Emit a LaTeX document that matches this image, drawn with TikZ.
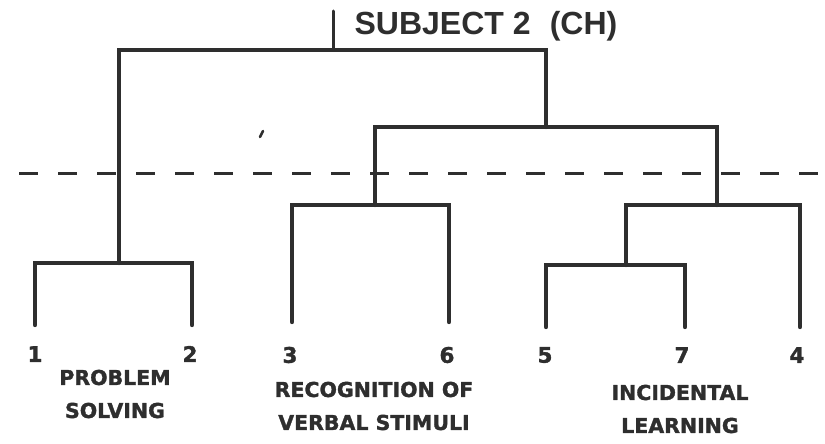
\documentclass[tikz,border=0pt]{standalone}
\usepackage{fontspec}
\setmainfont{Liberation Sans}
\newfontfamily\heavy[BoldFont=DejaVu Sans Bold,BoldFeatures={FakeBold=1.5}]{DejaVu Sans}
\begin{document}
\begin{tikzpicture}[x=1pt,y=-1pt,
  ink/.style={draw=inkc,line width=4.4pt,line cap=round,line join=miter},
  cut/.style={draw=inkc,line width=3pt,dash pattern=on 19pt off 20pt},
  num/.style={text=inkc,font=\heavy\fontsize{21.5}{21.5}\selectfont\bfseries,inner sep=0pt},
  grp/.style={text=inkc,font=\heavy\fontsize{20.5}{33}\selectfont\bfseries,inner sep=0pt,align=center},
  ttl/.style={text=inkc,font=\fontsize{32}{32}\selectfont\bfseries,inner sep=0pt}]
\definecolor{inkc}{HTML}{2E2E2E}
\useasboundingbox (0,0) rectangle (825,444);
% title
\node[ttl] (title) at (486,26) {SUBJECT 2\hspace{0.6em}(CH)};
% leaf numbers
\node[num] (n1) at (35,354) {1};
\node[num] (n2) at (190,354) {2};
\node[num] (n3) at (290,355) {3};
\node[num] (n6) at (447,355) {6};
\node[num] (n5) at (545,355) {5};
\node[num] (n7) at (682,355) {7};
\node[num] (n4) at (797,355) {4};
% group labels
\node[grp] (gps) at (115,394) {PROBLEM\\SOLVING};
\node[grp] (grv) at (374,406) {RECOGNITION OF\\VERBAL STIMULI};
\node[grp] (gil) at (680,409) {INCIDENTAL\\LEARNING};
% leaf tips
\coordinate (l1) at (35,325);
\coordinate (l2) at (192,325);
\coordinate (l3) at (292,322);
\coordinate (l6) at (449,322);
\coordinate (l5) at (546,327);
\coordinate (l7) at (685,327);
\coordinate (l4) at (800,327);
% joins
\coordinate (j12) at (119,263);
\coordinate (j36) at (375,205);
\coordinate (j57) at (626,265);
\coordinate (j574) at (717,205);
\coordinate (jR) at (546,127);
\coordinate (jT) at (333,50);
\coordinate (top) at (333,11);
% cut line
\coordinate (c0) at (19,173);
\coordinate (c1) at (825,173);
\draw[cut] (c0) -- (c1);
% dendrogram
\draw[ink] (l1) |- (j12) -| (l2);
\draw[ink] (l3) |- (j36) -| (l6);
\draw[ink] (l5) |- (j57) -| (l7);
\draw[ink] (j57) |- (j574) -| (l4);
\draw[ink] (j36) |- (jR) -| (j574);
\draw[ink] (j12) |- (jT) -| (jR);
\draw[inkc,line width=3pt,line cap=round] (jT) -- (top);
% small speck
\draw[inkc,line width=2.6pt,line cap=round] (260,137) -- (263,131);
\end{tikzpicture}
\end{document}
